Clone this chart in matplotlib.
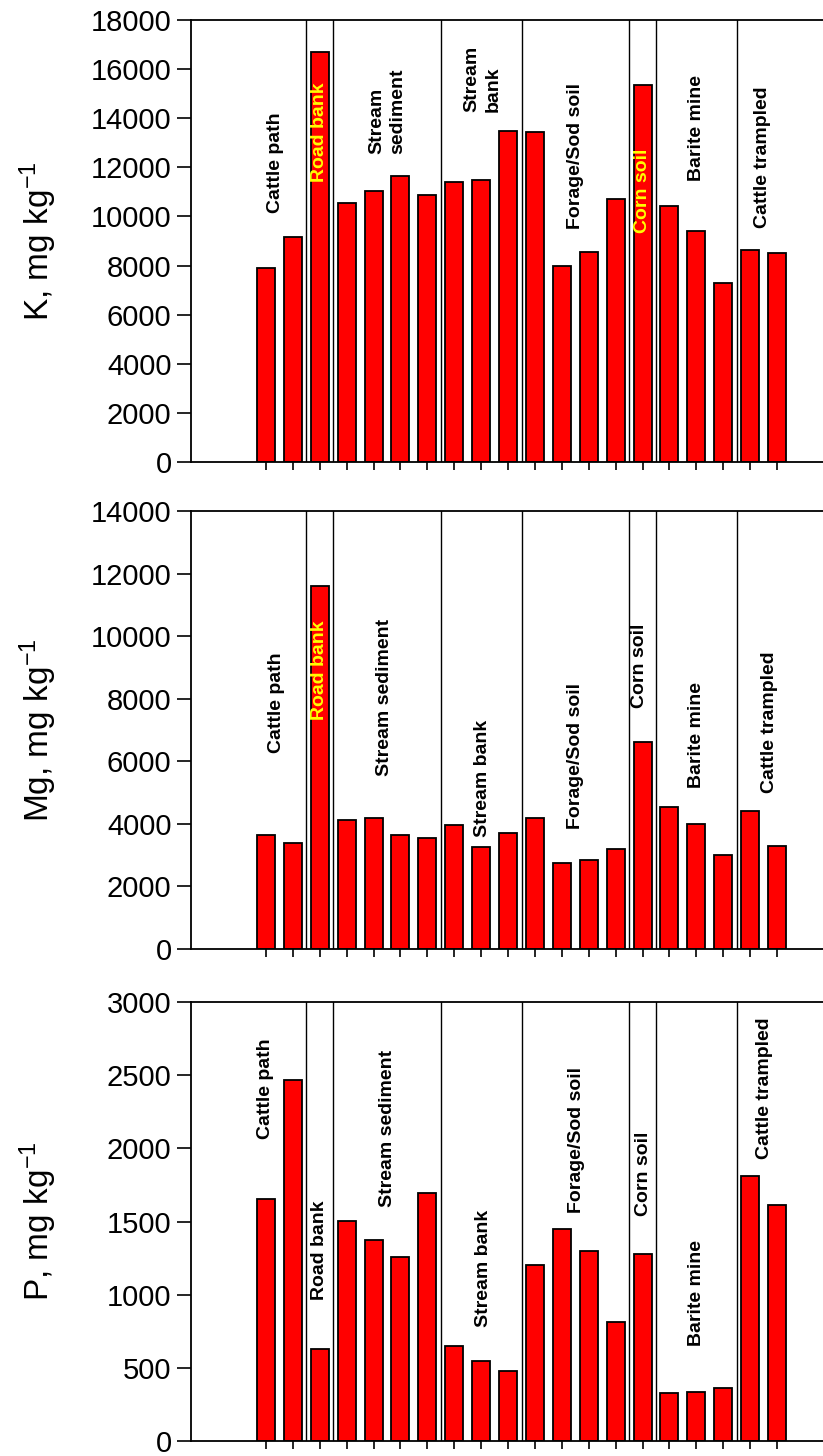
import matplotlib.pyplot as plt
import numpy as np

plt.rcParams['font.family'] = ['Liberation Sans', 'DejaVu Sans']
plt.rcParams['mathtext.fontset'] = 'custom'
plt.rcParams['mathtext.rm'] = 'Liberation Sans'
plt.rcParams['mathtext.it'] = 'Liberation Sans:italic'

# source groups and how many samples each has
grupos = ["Cattle path", "Road bank", "Stream sediment", "Stream bank",
          "Forage/Sod soil", "Corn soil", "Barite mine", "Cattle trampled"]
tamanos = [2, 1, 4, 3, 4, 1, 3, 2]

# concentrations, mg kg-1
k_vals = [7900, 9150, 16700, 10550, 11050, 11630, 10870, 11390, 11480, 13480,
          13420, 8000, 8560, 10710, 15350, 10440, 9420, 7300, 8620, 8500]
mg_vals = [3650, 3400, 11600, 4130, 4180, 3650, 3560, 3970, 3250, 3700,
           4200, 2750, 2830, 3200, 6630, 4530, 4000, 3000, 4420, 3280]
p_vals = [1657, 2466, 630, 1506, 1376, 1255, 1698, 650, 545, 480,
          1200, 1448, 1300, 812, 1280, 325, 335, 365, 1810, 1610]

x = np.arange(len(k_vals))
limites = np.cumsum(tamanos)[:-1] - 0.5

# panel settings: values, ylabel, ylim, tick step, label names, label positions, yellow labels
paneles = [
    (k_vals, r'K, mg kg$^{-1}$', 18000, 2000,
     ["Cattle path", "Road bank", "Stream\nsediment", "Stream\nbank",
      "Forage/Sod soil", "Corn soil", "Barite mine", "Cattle trampled"],
     [(0.35, 12175), (2, 13440), (4.5, 14290), (8.05, 15600), (11.5, 12460),
      (14, 11035), (16, 13620), (18.45, 12400)],
     ["Road bank", "Corn soil"]),
    (mg_vals, r'Mg, mg kg$^{-1}$', 14000, 2000, grupos,
     [(0.4, 7860), (2, 8900), (4.4, 8050), (8.05, 5465), (11.5, 6170),
      (13.9, 9045), (16, 6840), (18.7, 7240)],
     ["Road bank"]),
    (p_vals, r'P, mg kg$^{-1}$', 3000, 500, grupos,
     [(0.0, 2406), (2, 1305), (4.52, 2139), (8.1, 1182), (11.55, 2057),
      (14.05, 1828), (16, 1011), (18.55, 2412)],
     []),
]

# axes boxes in figure fraction (top, middle, bottom)
cajas = [(0.2321, 0.6827, 0.7886, 0.3036),
         (0.2321, 0.3482, 0.7886, 0.3008),
         (0.2321, 0.0103, 0.7886, 0.3015)]

fig = plt.figure(figsize=(8.23, 14.56), dpi=100)

for (vals, ylab, ymax, paso, nombres, pos, amarillos), caja in zip(paneles, cajas):
    ax = fig.add_axes(caja)
    for b in limites:
        ax.axvline(b, color='black', lw=1.0, zorder=1)
    ax.bar(x, vals, width=0.67, color='#ff0000', edgecolor='black', linewidth=1.3, zorder=2)
    for nombre, (px, py) in zip(nombres, pos):
        amarillo = nombre in amarillos
        ax.text(px, py, nombre, rotation=90, ha='center', va='center',
                multialignment='left', fontsize=14, fontweight='bold',
                color='#ffff00' if amarillo else 'black', zorder=3,
                linespacing=1.3)
    ax.set_xlim(-2.785, 21.34)
    ax.set_ylim(0, ymax)
    ax.set_yticks(np.arange(0, ymax + 1, paso))
    ax.set_xticks(x)
    ax.set_xticklabels([])
    ax.tick_params(axis='y', direction='out', length=10, width=1.2, labelsize=21, pad=4)
    ax.tick_params(axis='x', direction='out', length=6, width=1.2)
    for s in ax.spines.values():
        s.set_linewidth(1.3)
    fig.text(0.072, caja[1] + caja[3] / 2, ylab, rotation=90, ha='right',
             va='center', fontsize=24)

plt.savefig('out.png', dpi=100)
